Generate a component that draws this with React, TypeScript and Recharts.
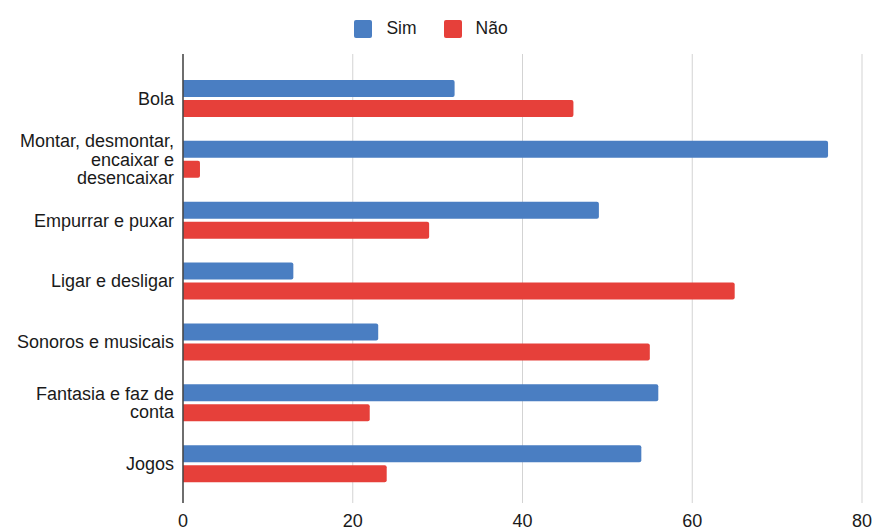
import React from 'react';
import { BarChart, Bar, XAxis, YAxis, CartesianGrid, Legend, Text } from 'recharts';

const categories = [
  'Bola',
  'Montar, desmontar, encaixar e desencaixar',
  'Empurrar e puxar',
  'Ligar e desligar',
  'Sonoros e musicais',
  'Fantasia e faz de conta',
  'Jogos',
];
const simValues = [32, 76, 49, 13, 23, 56, 54];
const naoValues = [46, 2, 29, 65, 55, 22, 24];
const xTicks = [0, 20, 40, 60, 80];

const seriesNames = { sim: 'Sim', nao: 'Não' };
const BLUE = '#4a7ec2';
const RED = '#e6403a';
const FONT = '"Liberation Sans", Arial, Helvetica, sans-serif';

const data = categories.map((name, i) => ({ name, sim: simValues[i], nao: naoValues[i] }));

const CategoryTick = (props: any) => {
  const { x, y, payload } = props;
  return (
    <Text
      x={x - 1}
      y={y}
      width={162}
      textAnchor="end"
      verticalAnchor="middle"
      lineHeight="1.03em"
      capHeight="0.71em"
      fill="#1a1a1a"
      style={{ fontSize: 18, fontFamily: FONT }}
    >
      {payload.value}
    </Text>
  );
};

const LegendContent = () => {
  const items = [
    { label: seriesNames.sim, color: BLUE },
    { label: seriesNames.nao, color: RED },
  ];
  return (
    <div
      style={{
        height: 40,
        display: 'flex',
        justifyContent: 'center',
        alignItems: 'flex-start',
        fontFamily: FONT,
        fontSize: 17.5,
        color: '#1a1a1a',
      }}
    >
      {items.map((it, i) => (
        <div
          key={it.label}
          style={{ display: 'flex', alignItems: 'center', height: 29, marginLeft: i === 0 ? 0 : 27 }}
        >
          <div style={{ width: 18, height: 18, background: it.color, borderRadius: 2, marginRight: 14 }} />
          <span>{it.label}</span>
        </div>
      ))}
    </div>
  );
};

export default function App() {
  return (
    <div style={{ position: 'absolute', left: 0, top: 0, width: 873, height: 530, background: '#fff' }}>
      <BarChart
        width={873}
        height={530}
        data={data}
        layout="vertical"
        margin={{ top: 14, right: 11, bottom: 0, left: 0 }}
        barSize={17}
        barGap={3}
      >
        <Legend verticalAlign="top" content={<LegendContent />} />
        <CartesianGrid horizontal={false} stroke="#d3d3d3" />
        <XAxis
          type="number"
          domain={[0, 80]}
          ticks={xTicks}
          height={27}
          axisLine={false}
          tickLine={false}
          tickSize={6}
          tickMargin={5}
          tick={{ fontSize: 18, fill: '#1a1a1a', fontFamily: FONT }}
        />
        <YAxis
          type="category"
          dataKey="name"
          width={183}
          padding={{ top: 14, bottom: 9 }}
          axisLine={{ stroke: '#444', strokeWidth: 1.5 }}
          tickLine={false}
          tick={<CategoryTick />}
          interval={0}
        />
        <Bar dataKey="sim" name={seriesNames.sim} fill={BLUE} radius={[0, 2, 2, 0]} isAnimationActive={false} />
        <Bar dataKey="nao" name={seriesNames.nao} fill={RED} radius={[0, 2, 2, 0]} isAnimationActive={false} />
      </BarChart>
    </div>
  );
}
